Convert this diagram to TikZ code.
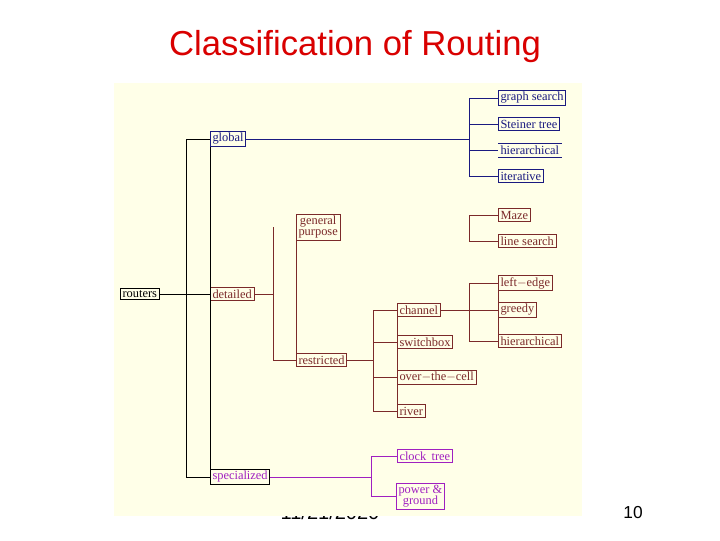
\documentclass[tikz,border=0pt]{standalone}
\usepackage{fontspec}
\setmainfont{Liberation Serif}
\newfontfamily\arial{Liberation Sans}
\begin{document}
\begin{tikzpicture}[x=0.75pt,y=-0.75pt,
  bx/.style={draw,line width=0.6pt,inner sep=1.6pt,font=\fontsize{9.3}{10}\selectfont,anchor=west,align=center},
  nv/.style={bx,draw=navy,text=navy},
  br/.style={bx,draw=brn,text=brn},
  pu/.style={bx,draw=purp,text=purp},
  ln/.style={line width=0.6pt}]
\definecolor{navy}{HTML}{1A1A80}
\definecolor{brn}{HTML}{7B2A2A}
\definecolor{purp}{HTML}{A020C0}
\definecolor{cream}{HTML}{FFFFE8}
\useasboundingbox (0,0) rectangle (720,540);
\fill[white] (0,0) rectangle (720,540);
\node[font=\arial\fontsize{15}{17}\selectfont,text=black] (date) at (330,512) {11/21/2020};
\fill[cream] (114,83) rectangle (582,516);
\node[font=\arial\fontsize{26}{30}\selectfont,text=red!85!black] (title) at (355,47) {Classification of Routing};
\node[font=\arial\fontsize{13}{15}\selectfont] (num) at (633,513) {10};
% level 1
\node[bx] (routers) at (120,294) {routers};
\node[nv,draw=navy] (global) at (210,139) {global};
\node[br] (detailed) at (210,294) {detailed};
\node[bx,text=purp] (spec) at (210,477) {specialized};
\draw[ln] (routers.east) -- (detailed.west);
\draw[ln] (186,139) -- (186,477);
\draw[ln] (186,139) -- (global.west);
\draw[ln] (186,477) -- (spec.west);
\draw[ln] (global.south west) -- (spec.north west);
% global
\node[nv] (gs) at (498,98) {graph search};
\node[nv] (st) at (498,124) {Steiner tree};
\node[bx,draw=none,text=navy] (gh) at (498,150) {hierarchical};
\draw[navy,ln] (gh.north west)--(gh.north east) (gh.south west)--(gh.south east);
\node[nv] (it) at (498,176) {iterative};
\draw[navy,ln] (global.east) -- (469,139);
\draw[navy,ln] (469,98) -- (469,176);
\foreach \n/\y in {gs/98,st/124,gh/150,it/176} \draw[navy,ln] (469,\y) -- (\n.west);
% detailed
\node[br] (gp) at (296,227) {general\\[-2pt]purpose};
\node[br] (rs) at (296,360) {restricted};
\draw[brn,ln] (detailed.east) -- (273,294);
\draw[brn,ln] (273,227) -- (273,360) -- (rs.west);
\draw[brn,ln] (gp.south west) -- (rs.north west);
\node[br] (mz) at (498,215) {Maze};
\node[br] (ls) at (498,241) {line search};
\draw[brn,ln] (mz.west) -- (469,215) -- (469,241) -- (ls.west);
\node[br] (ch) at (397,310) {channel};
\node[br] (sw) at (397,342) {switchbox};
\node[br] (oc) at (397,377) {over$-$the$-$cell};
\node[br] (rv) at (397,411) {river};
\draw[brn,ln] (rs.east) -- (373,360);
\draw[brn,ln] (373,310) -- (373,411);
\foreach \n/\y in {ch/310,sw/342,oc/377,rv/411} \draw[brn,ln] (373,\y) -- (\n.west);
\draw[brn,ln] (ch.north west) -- (rv.south west);
\node[br] (le) at (498,283) {left$-$edge};
\node[br] (gr) at (498,310) {greedy};
\node[br] (hi) at (498,341) {hierarchical};
\draw[brn,ln] (ch.east) -- (gr.west);
\draw[brn,ln] (le.west) -- (469,283) -- (469,341) -- (hi.west);
\draw[brn,ln] (le.south west) -- (hi.north west);
% specialized
\node[pu] (ct) at (397,456) {clock\, tree};
\node[pu] (pg) at (396,496) {power \&\\[-2pt]ground};
\draw[purp,ln] (spec.east) -- (371,477);
\draw[purp,ln] (ct.west) -- (371,456) -- (371,496) -- (pg.west);
\end{tikzpicture}
\end{document}
